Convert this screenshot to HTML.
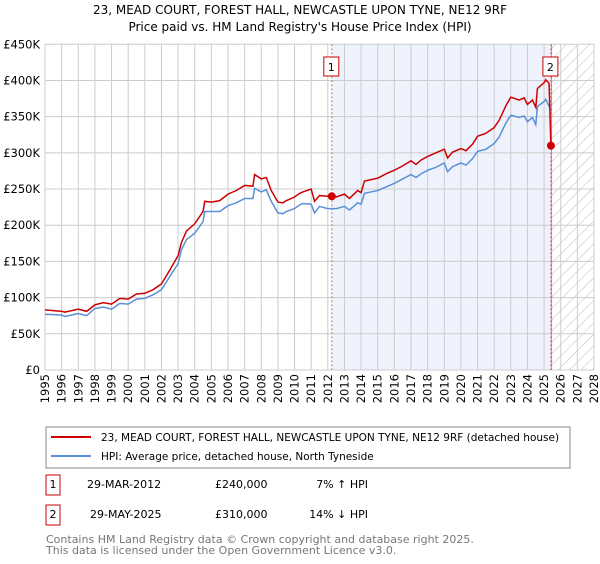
<!DOCTYPE html>
<html><head><meta charset="utf-8"><style>
body{margin:0;background:#fff;font-family:"DejaVu Sans","Liberation Sans",sans-serif;}
svg text{font-family:"DejaVu Sans","Liberation Sans",sans-serif;}
</style></head><body>
<svg id="chart" width="600" height="560" xmlns="http://www.w3.org/2000/svg">
<defs><pattern id="hatch" width="8" height="8" patternUnits="userSpaceOnUse" patternTransform="rotate(45)"><line x1="0" y1="0" x2="0" y2="8" stroke="#bbb" stroke-width="1"/></pattern></defs>
<text x="300" y="14" text-anchor="middle" font-size="12">23, MEAD COURT, FOREST HALL, NEWCASTLE UPON TYNE, NE12 9RF</text>
<text x="300" y="31" text-anchor="middle" font-size="12">Price paid vs. HM Land Registry's House Price Index (HPI)</text>
<g id="plot"></g>
<rect x="46" y="427" width="524" height="41" fill="none" stroke="#888"/>
<line x1="51" y1="437" x2="91" y2="437" stroke="#cc0000" stroke-width="2"/>
<text x="101" y="441" font-size="10.5">23, MEAD COURT, FOREST HALL, NEWCASTLE UPON TYNE, NE12 9RF (detached house)</text>
<line x1="51" y1="456" x2="91" y2="456" stroke="#5b8fd6" stroke-width="2"/>
<text x="101" y="460" font-size="10.5">HPI: Average price, detached house, North Tyneside</text>
<rect x="46" y="475" width="14" height="20" fill="none" stroke="#cc0000"/>
<text x="53" y="488" font-size="11" text-anchor="middle">1</text>
<text x="87" y="488" font-size="11">29-MAR-2012</text>
<text x="215" y="488" font-size="11">£240,000</text>
<text x="368" y="488" font-size="11" text-anchor="end">7% ↑ HPI</text>
<rect x="46" y="505" width="14" height="20" fill="none" stroke="#cc0000"/>
<text x="53" y="518" font-size="11" text-anchor="middle">2</text>
<text x="90" y="518" font-size="11">29-MAY-2025</text>
<text x="215" y="518" font-size="11">£310,000</text>
<text x="368" y="518" font-size="11" text-anchor="end">14% ↓ HPI</text>
<text x="46" y="543" font-size="11" fill="#777">Contains HM Land Registry data © Crown copyright and database right 2025.</text>
<text x="46" y="554" font-size="11" fill="#777">This data is licensed under the Open Government Licence v3.0.</text>
</svg>
<script>
const hpiYears=[1995,1996,1996.2,1997,1997.5,1998,1998.5,1999,1999.5,2000,2000.5,2001,2001.5,2002,2002.5,2003,2003.2,2003.5,2004,2004.5,2004.6,2005,2005.5,2006,2006.5,2007,2007.5,2007.6,2008,2008.3,2008.6,2009,2009.3,2009.5,2010,2010.3,2010.5,2011,2011.2,2011.5,2012,2012.5,2013,2013.3,2013.8,2014,2014.2,2014.6,2015,2015.5,2016,2016.5,2017,2017.3,2017.6,2018,2018.5,2019,2019.2,2019.5,2020,2020.3,2020.7,2021,2021.5,2022,2022.3,2022.7,2023,2023.5,2023.8,2024,2024.3,2024.5,2024.6,2025,2025.1,2025.3,2025.45];
const hpiValues=[77,76,74,78,75,85,87,84,92,91,98,99,104,111,129,147,166,180,189,205,219,219,219,227,231,237,237,251,246,249,233,217,216,219,223,228,230,229,217,226,223,223,226,221,231,229,244,246,248,253,258,264,270,266,271,276,280,286,274,281,286,283,292,302,305,313,322,341,352,349,351,343,349,339,364,371,374,364,359];
const propYears=[1995,1996,1996.2,1997,1997.5,1998,1998.5,1999,1999.5,2000,2000.5,2001,2001.5,2002,2002.5,2003,2003.2,2003.5,2004,2004.5,2004.6,2005,2005.5,2006,2006.5,2007,2007.5,2007.6,2008,2008.3,2008.6,2009,2009.3,2009.5,2010,2010.3,2010.5,2011,2011.2,2011.5,2012,2012.24,2012.5,2013,2013.3,2013.8,2014,2014.2,2014.6,2015,2015.5,2016,2016.5,2017,2017.3,2017.6,2018,2018.5,2019,2019.2,2019.5,2020,2020.3,2020.7,2021,2021.5,2022,2022.3,2022.7,2023,2023.5,2023.8,2024,2024.3,2024.5,2024.6,2025,2025.1,2025.3,2025.41];
const propValues=[83,81,80,84,81,90,93,91,99,98,105,106,111,119,138,158,176,192,202,219,233,232,234,243,248,255,254,270,264,266,248,232,231,234,239,244,246,250,233,241,240,240,239,243,237,248,245,261,263,265,271,276,282,289,284,290,295,300,305,293,301,306,303,312,323,327,335,345,365,377,373,376,367,373,363,389,397,401,396,310];
const sales=[{n:'1',year:2012.24,value:240},{n:'2',year:2025.41,value:310}];
const yTicks=[0,50,100,150,200,250,300,350,400,450];
const yLabels=['£0','£50K','£100K','£150K','£200K','£250K','£300K','£350K','£400K','£450K'];
const xTicks=[1995,1996,1997,1998,1999,2000,2001,2002,2003,2004,2005,2006,2007,2008,2009,2010,2011,2012,2013,2014,2015,2016,2017,2018,2019,2020,2021,2022,2023,2024,2025,2026,2027,2028];

const X0=45,X1=594,Y0=370,Y1=44.3;
const xs=y=>X0+(y-1995)/(2028-1995)*(X1-X0);
const ys=v=>Y0-v/450*(Y0-Y1);
const NS='http://www.w3.org/2000/svg';
const g=document.getElementById('plot');
function mk(t,a){const e=document.createElementNS(NS,t);for(const k in a)e.setAttribute(k,a[k]);g.appendChild(e);return e;}
const lastY=2025.45;
let r=mk('rect',{x:xs(sales[0].year),y:Y1,width:xs(lastY)-xs(sales[0].year),height:Y0-Y1,fill:'#eef2fc'});


r=mk('rect',{x:xs(lastY),y:Y1,width:X1-xs(lastY),height:Y0-Y1,fill:'url(#hatch)'});


yTicks.forEach((t,i)=>{
 const l=mk('line',{x1:X0,x2:X1,y1:ys(t),y2:ys(t),stroke:'#ccc'});
 
 
 const tx=mk('text',{x:40,y:ys(t)+4,'text-anchor':'end','font-size':'11.5'});
 tx.textContent=yLabels[i];
 
 
});
xTicks.forEach(t=>{
 const l=mk('line',{x1:xs(t),x2:xs(t),y1:Y1,y2:Y0,stroke:'#ccc'});
 
 
 const tx=mk('text',{x:0,y:0,'text-anchor':'end','font-size':'11.5',transform:`translate(${xs(t)+4},${Y0+4}) rotate(-90)`});
 tx.textContent=t;
 
 
});
r=mk('line',{x1:xs(lastY),x2:xs(lastY),y1:Y1,y2:Y0,stroke:'#999'});


sales.forEach(s=>{
 const l=mk('line',{x1:xs(s.year),x2:xs(s.year),y1:Y1,y2:Y0,stroke:'#e06060','stroke-dasharray':'2,2'});
 
 
});
const hp=mk('polyline',{points:hpiYears.map((y,i)=>xs(y)+','+ys(hpiValues[i])).join(' '),fill:'none',stroke:'#5b8fd6','stroke-width':1.5});


const pp=mk('polyline',{points:propYears.map((y,i)=>xs(y)+','+ys(propValues[i])).join(' '),fill:'none',stroke:'#cc0000','stroke-width':1.5});


sales.forEach(s=>{
 const c=mk('circle',{cx:xs(s.year),cy:ys(s.value),r:4,fill:'#cc0000'});
 
 
 const b=mk('rect',{x:xs(s.year)-8,y:57,width:15,height:19,fill:'#fff',stroke:'#cc0000'});
 
 
 const t=mk('text',{x:xs(s.year)-0.5,y:71,'text-anchor':'middle','font-size':'11'});
 t.textContent=s.n;
 
 
});
</script>
</body></html>
